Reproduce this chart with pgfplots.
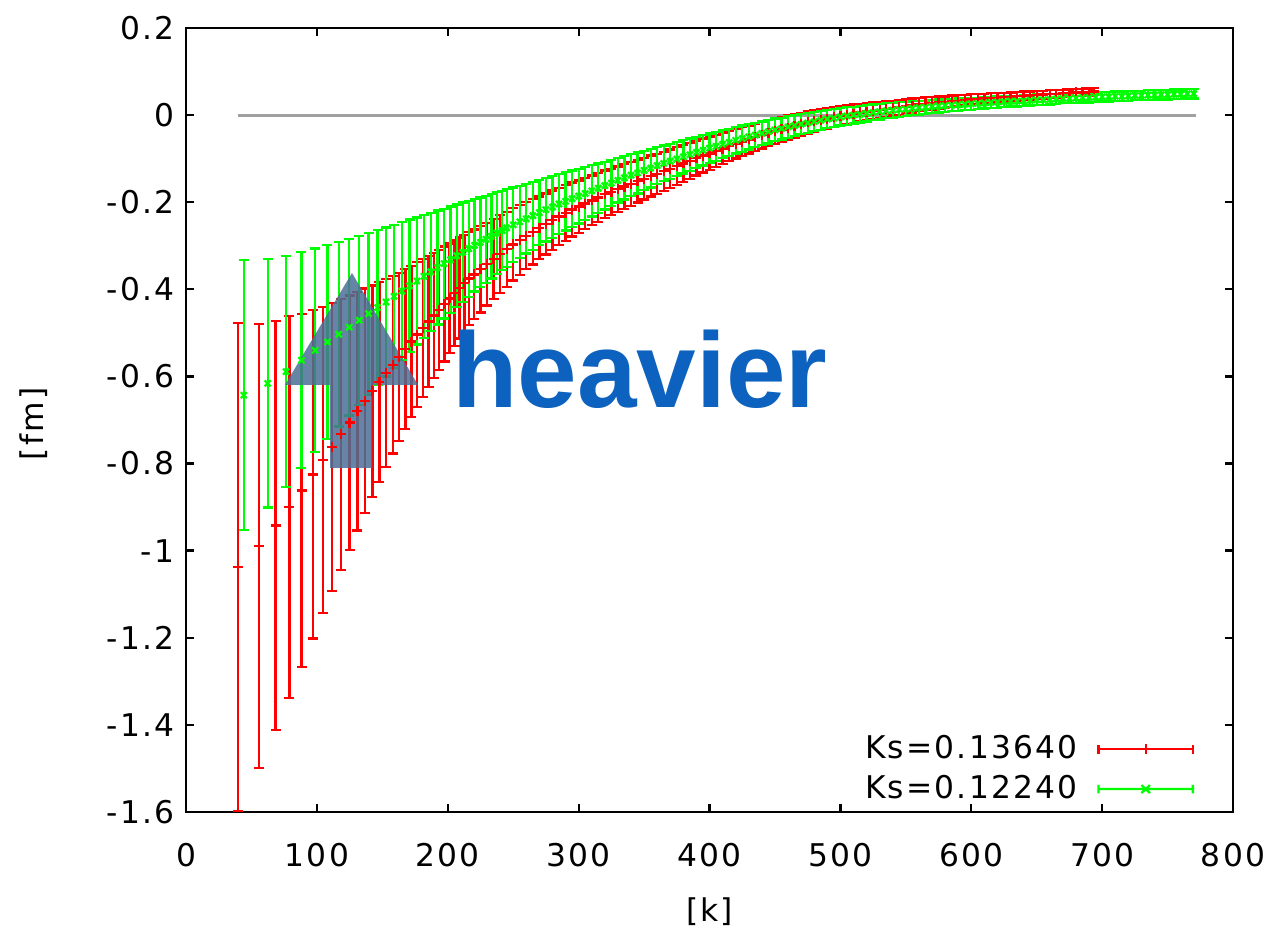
\documentclass[border=0pt]{standalone}
\usepackage{pgfplots}
\pgfplotsset{compat=1.18}
\usepackage{pgfplotstable}
\usepackage{fontspec}
\setmainfont{DejaVu Sans}[LetterSpace=7]
\newfontfamily\heavyfont{Liberation Sans}
\definecolor{arrowblue}{RGB}{74,111,150}
\definecolor{textblue}{RGB}{12,98,190}
\definecolor{zerogray}{RGB}{160,160,160}
\definecolor{pred}{RGB}{255,0,0}
\definecolor{pgreen}{RGB}{0,255,0}

\pgfplotstableread{
x y e
39.5 -1.038 0.560
55.9 -0.989 0.510
68.4 -0.942 0.470
79.0 -0.900 0.438
88.3 -0.862 0.405
96.8 -0.825 0.377
104.5 -0.792 0.352
111.7 -0.762 0.330
118.5 -0.733 0.311
124.9 -0.706 0.292
131.0 -0.680 0.274
136.8 -0.656 0.258
142.4 -0.634 0.243
147.8 -0.613 0.229
153.0 -0.592 0.216
158.0 -0.573 0.204
162.9 -0.555 0.193
167.6 -0.537 0.183
172.2 -0.520 0.174
176.6 -0.504 0.166
181.0 -0.489 0.158
185.3 -0.474 0.151
189.4 -0.460 0.144
193.5 -0.447 0.138
197.5 -0.434 0.132
201.4 -0.421 0.126
205.2 -0.409 0.121
209.0 -0.397 0.116
212.7 -0.386 0.111
216.4 -0.375 0.107
220 -0.366 0.103
225 -0.354 0.099
230 -0.342 0.095
235 -0.330 0.092
240 -0.319 0.089
245 -0.308 0.086
250 -0.297 0.083
255 -0.287 0.080
260 -0.277 0.077
265 -0.268 0.075
270 -0.259 0.072
275 -0.250 0.070
280 -0.241 0.068
285 -0.233 0.066
290 -0.225 0.064
295 -0.217 0.062
300 -0.210 0.060
305 -0.203 0.059
310 -0.196 0.057
315 -0.189 0.056
320 -0.182 0.055
325 -0.176 0.053
330 -0.170 0.052
335 -0.164 0.051
340 -0.158 0.050
345 -0.152 0.049
350 -0.146 0.048
355 -0.140 0.047
360 -0.135 0.046
365 -0.129 0.045
370 -0.123 0.044
375 -0.117 0.043
380 -0.111 0.042
385 -0.105 0.041
390 -0.099 0.040
395 -0.093 0.039
400 -0.088 0.038
405 -0.082 0.037
410 -0.077 0.036
415 -0.071 0.035
420 -0.066 0.034
425 -0.061 0.033
430 -0.056 0.032
435 -0.051 0.031
440 -0.046 0.031
445 -0.041 0.030
450 -0.037 0.029
455 -0.033 0.028
460 -0.029 0.028
465 -0.025 0.027
470 -0.021 0.026
475 -0.017 0.025
480 -0.014 0.025
485 -0.011 0.024
490 -0.008 0.023
495 -0.005 0.023
500 -0.002 0.022
505 0.001 0.021
510 0.003 0.021
515 0.006 0.020
520 0.008 0.019
525 0.010 0.019
530 0.012 0.018
535 0.014 0.018
540 0.016 0.017
545 0.018 0.017
550 0.020 0.016
555 0.022 0.016
560 0.024 0.015
565 0.026 0.015
570 0.027 0.014
575 0.029 0.014
580 0.030 0.013
585 0.032 0.013
590 0.033 0.013
595 0.034 0.012
600 0.036 0.012
605 0.037 0.012
610 0.038 0.011
615 0.039 0.011
620 0.040 0.011
625 0.041 0.010
630 0.042 0.010
635 0.043 0.010
640 0.044 0.010
645 0.045 0.009
650 0.046 0.009
655 0.047 0.009
660 0.048 0.009
665 0.049 0.009
670 0.050 0.008
675 0.051 0.008
680 0.052 0.008
685 0.052 0.008
690 0.053 0.008
694 0.054 0.008
}\redtab

\pgfplotstableread{
x y e
44.1 -0.643 0.310
62.4 -0.616 0.285
76.4 -0.589 0.265
88.2 -0.563 0.248
98.6 -0.540 0.234
108.0 -0.521 0.222
116.7 -0.503 0.212
124.7 -0.487 0.203
132.3 -0.471 0.194
139.5 -0.456 0.186
146.3 -0.442 0.178
152.8 -0.429 0.171
159.0 -0.416 0.164
165.0 -0.404 0.158
170.8 -0.392 0.152
176.4 -0.381 0.146
181.8 -0.370 0.141
187.1 -0.360 0.136
192.2 -0.350 0.131
197.2 -0.341 0.126
202.1 -0.332 0.122
206.8 -0.323 0.118
211.5 -0.315 0.114
216.0 -0.307 0.110
220.5 -0.299 0.106
224.9 -0.292 0.103
229.2 -0.285 0.100
233.4 -0.278 0.097
237.5 -0.271 0.094
241.5 -0.265 0.091
245 -0.259 0.089
250 -0.252 0.086
255 -0.245 0.083
260 -0.238 0.080
265 -0.231 0.078
270 -0.224 0.075
275 -0.217 0.073
280 -0.211 0.071
285 -0.204 0.069
290 -0.198 0.067
295 -0.192 0.065
300 -0.186 0.063
305 -0.180 0.061
310 -0.174 0.059
315 -0.168 0.057
320 -0.162 0.055
325 -0.156 0.053
330 -0.150 0.051
335 -0.144 0.050
340 -0.138 0.048
345 -0.133 0.047
350 -0.127 0.045
355 -0.122 0.044
360 -0.116 0.043
365 -0.111 0.041
370 -0.106 0.040
375 -0.101 0.039
380 -0.096 0.038
385 -0.091 0.037
390 -0.086 0.036
395 -0.081 0.035
400 -0.076 0.034
405 -0.072 0.033
410 -0.067 0.032
415 -0.063 0.031
420 -0.058 0.030
425 -0.054 0.030
430 -0.050 0.029
435 -0.046 0.028
440 -0.042 0.027
445 -0.038 0.027
450 -0.034 0.026
455 -0.031 0.025
460 -0.027 0.025
465 -0.024 0.024
470 -0.021 0.023
475 -0.018 0.023
480 -0.015 0.022
485 -0.012 0.022
490 -0.009 0.021
495 -0.007 0.021
500 -0.004 0.020
505 -0.002 0.020
510 0.000 0.019
515 0.002 0.019
520 0.004 0.019
525 0.006 0.018
530 0.008 0.018
535 0.010 0.017
540 0.011 0.017
545 0.013 0.017
550 0.014 0.016
555 0.016 0.016
560 0.017 0.016
565 0.018 0.015
570 0.020 0.015
575 0.021 0.015
580 0.022 0.015
585 0.023 0.014
590 0.024 0.014
595 0.025 0.014
600 0.026 0.014
605 0.027 0.013
610 0.028 0.013
615 0.029 0.013
620 0.030 0.013
625 0.031 0.013
630 0.032 0.012
635 0.032 0.012
640 0.033 0.012
645 0.034 0.012
650 0.035 0.012
655 0.035 0.012
660 0.036 0.012
665 0.037 0.011
670 0.038 0.011
675 0.038 0.011
680 0.039 0.011
685 0.040 0.011
690 0.040 0.011
695 0.041 0.011
700 0.042 0.011
705 0.042 0.011
710 0.043 0.011
715 0.043 0.011
720 0.044 0.011
725 0.045 0.011
730 0.045 0.011
735 0.046 0.011
740 0.046 0.011
745 0.047 0.011
750 0.047 0.011
755 0.048 0.011
760 0.048 0.011
765 0.049 0.011
770 0.049 0.011
}\greentab

\begin{document}
\begin{tikzpicture}
\begin{axis}[
  scale only axis,
  width=366.45bp, height=274.4bp,
  xmin=0, xmax=800, ymin=-1.6, ymax=0.2,
  xtick={0,100,200,300,400,500,600,700,800},
  ytick={-1.6,-1.4,-1.2,-1,-0.8,-0.6,-0.4,-0.2,0,0.2},
  tick align=inside,
  major tick length=2.8bp,
  axis line style={line width=1bp, black},
  every tick/.style={black, line width=0.8bp},
  /pgf/number format/assume math mode=true,
  tick label style={font=\fontsize{11}{13}\selectfont},
  xticklabel style={yshift=-7.5bp},
  yticklabel style={xshift=-0.6bp},
  xlabel={[k]}, ylabel={[fm]},
  label style={font=\fontsize{11}{13}\selectfont},
  xlabel style={at={(axis description cs:0.5,-0.1276)}, anchor=center},
  ylabel style={at={(axis description cs:-0.146,0.495)}, anchor=center, rotate=0},
  clip=false,
  legend style={at={(axis description cs:0.966,0.0)}, anchor=south east,
    draw=none, fill=none, font=\fontsize{11}{13}\selectfont,
    row sep=0.3bp, column sep=5bp, inner sep=1bp},
  legend cell align=right,
  legend plot pos=right,
]
\path (axis description cs:-0.1777,-0.1492) rectangle (axis description cs:1.0420,1.0357);

\addplot[zerogray, line width=1bp, forget plot] coordinates {(39.5,0) (772,0)};

\addplot[draw=pred, color=pred, only marks, mark=+, mark size=1.75bp, line width=0.8bp, forget plot,
  mark options={draw=pred},
  error bars/.cd, y dir=both, y explicit,
  error bar style={draw=pred, color=pred, line width=0.8bp},
  error mark options={rotate=90, draw=pred, color=pred, mark size=1.75bp, line width=0.8bp}]
  table[x=x, y=y, y error=e] {\redtab};

\addplot[draw=pgreen, color=pgreen, only marks, mark=x, mark size=1.5bp, line width=0.8bp, forget plot,
  mark options={draw=pgreen},
  error bars/.cd, y dir=both, y explicit,
  error bar style={draw=pgreen, color=pgreen, line width=0.8bp},
  error mark options={rotate=90, draw=pgreen, color=pgreen, mark size=1.75bp, line width=0.8bp}]
  table[x=x, y=y, y error=e] {\greentab};

\addlegendimage{legend image code/.code={
  \draw[pred, line width=0.8bp] (0bp,0bp)--(33bp,0bp)
    (0bp,-1.5bp)--(0bp,1.5bp) (33bp,-1.5bp)--(33bp,1.5bp)
    (16.5bp,-1.7bp)--(16.5bp,1.7bp);}}
\addlegendentry{Ks=0.13640}
\addlegendimage{legend image code/.code={
  \draw[pgreen, line width=0.8bp] (0bp,0bp)--(33bp,0bp)
    (0bp,-1.5bp)--(0bp,1.5bp) (33bp,-1.5bp)--(33bp,1.5bp)
    (15bp,-1.4bp)--(18bp,1.4bp) (15bp,1.4bp)--(18bp,-1.4bp);}}
\addlegendentry{Ks=0.12240}

\fill[arrowblue, fill opacity=0.85]
  (axis cs:126.8,-0.3625) -- (axis cs:177.3,-0.6196) -- (axis cs:142.1,-0.6196)
  -- (axis cs:142.1,-0.810) -- (axis cs:110.0,-0.810) -- (axis cs:110.0,-0.6196)
  -- (axis cs:75.6,-0.6196) -- cycle;

\node[anchor=base west, inner sep=0pt, text=textblue,
  font=\heavyfont\bfseries\fontsize{37.6}{40}\selectfont]
  at (axis cs:203.2,-0.6724) {heavier};
\end{axis}
\end{tikzpicture}
\end{document}
